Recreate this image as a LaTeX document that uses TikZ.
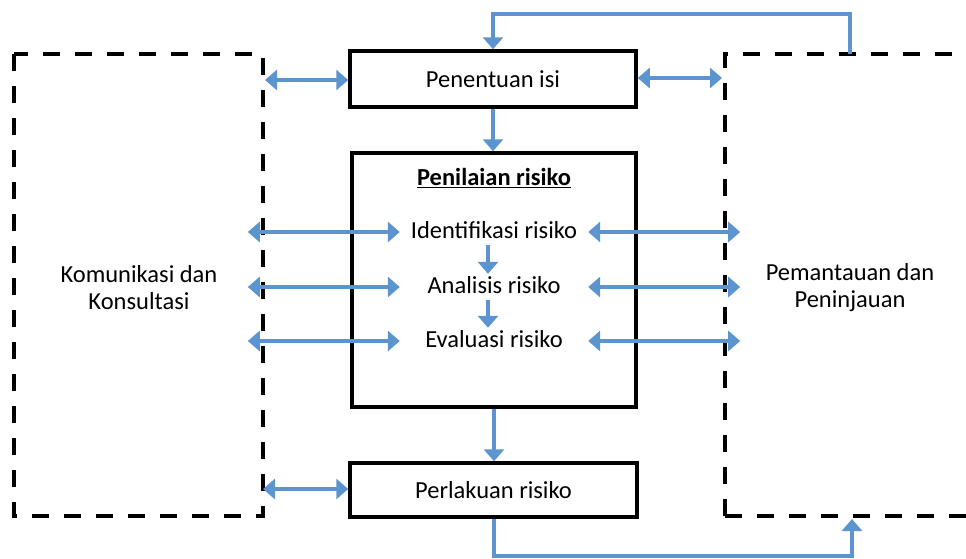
\documentclass[tikz,border=0pt]{standalone}
\usepackage{fontspec}
\setmainfont{Carlito}
\usetikzlibrary{arrows.meta}
\definecolor{arrblue}{RGB}{91,148,206}

\begin{document}
\begin{tikzpicture}[x=1pt,y=-1pt,
  every node/.style={font=\fontsize{24.5}{27}\selectfont},
  box/.style={draw,line width=3.5pt,inner sep=0pt},
  frame/.style={line width=4pt,dash pattern=on 17pt off 15pt},
  arr/.style={draw=arrblue,line width=4pt,-{Triangle[length=12pt,width=20pt]}},
  dblarr/.style={draw=arrblue,line width=4pt,{Triangle[length=12pt,width=20pt]}-{Triangle[length=12pt,width=20pt]}},
  risk/.style={minimum width=188pt,inner xsep=0pt,inner ysep=2pt,text height=17pt,text depth=5pt},
  lbl/.style={align=center}]

  \useasboundingbox (0,0) rectangle (966,558);

  % dashed frames
  \draw[frame] (14,54) rectangle (263,516);
  \draw[frame] (725,516) -- (725,54) -- (966,54);
  \draw[frame] (725,516) -- (966,516);
  \node[lbl] (kom) at (139,288) {Komunikasi dan\\Konsultasi};
  \node[lbl] (pantau) at (850,288) {Pemantauan dan\\Peninjauan};

  % process boxes
  \node[box,minimum width=286pt,minimum height=56pt] (isi) at (493,79) {Penentuan isi};
  \node[box,minimum width=284pt,minimum height=254pt] (nilai) at (494,280) {};
  \node[] (judul) at (494,178) {\underline{\textbf{Penilaian risiko}}};
  \node[risk] (ident) at (494,232) {Identifikasi risiko};
  \node[risk] (anal) at (494,287) {Analisis risiko};
  \node[risk] (eval) at (494,341) {Evaluasi risiko};
  \node[box,minimum width=287pt,minimum height=54pt] (lakuan) at (493.5,490) {Perlakuan risiko};

  \coordinate (kiri1) at (265,80);
  \coordinate (kanan1) at (722,78);
  \coordinate (kiri2) at (263,489);
  \coordinate (atas) at (850,54);
  \coordinate (bawah) at (852,519);

  % flow
  \draw[arr] (isi.south) -- (isi.south |- nilai.north);
  \draw[arr] (nilai.south) -- (nilai.south |- lakuan.north);
  \draw[arr] ([xshift=-6pt]ident.south) -- ([xshift=-6pt]anal.north);
  \draw[arr] ([xshift=-6pt]anal.south) -- ([xshift=-6pt]eval.north);

  % links to the frames
  \draw[dblarr] (kiri1) -- (kiri1 -| isi.west);
  \draw[dblarr] (isi.east |- kanan1) -- (kanan1);
  \draw[dblarr] (kiri2) -- (kiri2 -| lakuan.west);
  \foreach \n in {ident,anal,eval} {
    \draw[dblarr] (\n.west) -- ++(-152,0);
    \draw[dblarr] (\n.east) -- ++(152,0);
  }

  % feedback loop
  \draw[arr] (atas) -- ++(0,-40) -| (isi.north);
  \draw[arr] (lakuan.south) -- ++(0,37) -| (bawah);

\end{tikzpicture}
\end{document}
